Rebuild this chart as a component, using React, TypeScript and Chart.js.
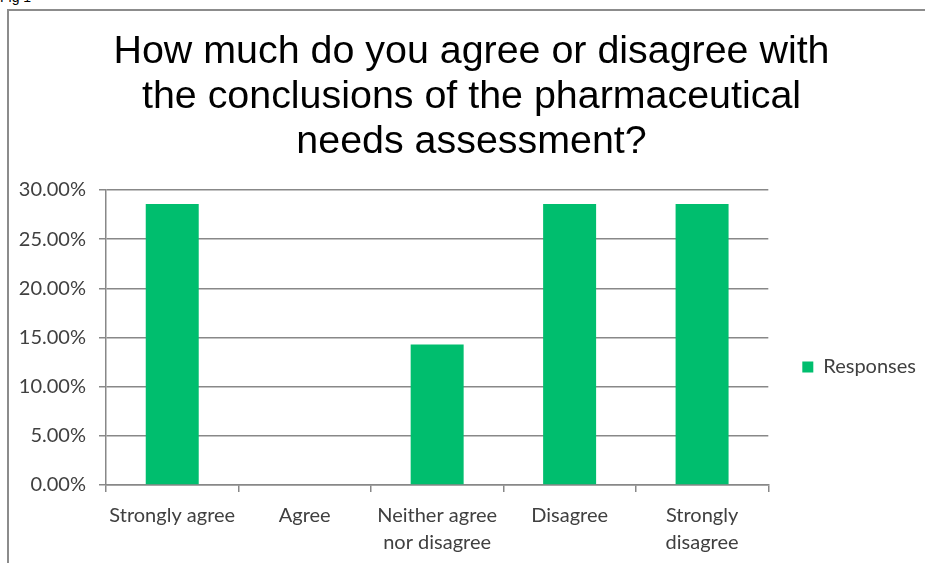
import React, { useEffect, useRef } from "react";
import { Chart, registerables } from "chart.js";

Chart.register(...registerables);

const TITLE_LINES = [
  "How much do you agree or disagree with",
  "the conclusions of the pharmaceutical",
  "needs assessment?",
];
const CATEGORIES: (string | string[])[] = [
  "Strongly agree",
  "Agree",
  ["Neither agree", "nor disagree"],
  "Disagree",
  ["Strongly", "disagree"],
];
const RESPONSES = [28.57, 0, 14.29, 28.57, 28.57];
const SERIES_LABEL = "Responses";
const Y_MAX = 30;
const Y_STEP = 5;

const X0 = 17;
const Y0 = 11;
const W = 914;
const H = 555;

export default function App() {
  const ref = useRef<HTMLCanvasElement | null>(null);

  useEffect(() => {
    if (!ref.current) return;
    const chart = new Chart(ref.current, {
      type: "bar",
      data: {
        labels: CATEGORIES,
        datasets: [
          {
            label: SERIES_LABEL,
            data: RESPONSES,
            backgroundColor: "#00BE6E",
            borderWidth: 0,
            barPercentage: 0.4,
            categoryPercentage: 1,
          },
        ],
      },
      options: {
        responsive: false,
        animation: false,
        devicePixelRatio: 1,
        layout: { padding: { left: 0, right: 5, top: 0, bottom: 0 } },
        plugins: {
          title: {
            display: true,
            text: TITLE_LINES,
            color: "#000000",
            font: { family: "'Liberation Sans', Arial, sans-serif", size: 39.4, weight: "normal", lineHeight: "45px" },
            padding: { top: 19, bottom: 25 },
          },
          legend: {
            display: true,
            position: "right",
            title: {
              display: true,
              text: "",
              font: { size: 18, lineHeight: 1.2 },
              padding: { top: 67.7, bottom: 67.7 },
            },
            labels: {
              boxWidth: 11,
              boxHeight: 11,
              padding: 34,
              color: "#404040",
              font: { family: "Lato, 'Noto Sans', sans-serif", size: 20 },
            },
          },
          tooltip: { enabled: false },
        },
        scales: {
          x: {
            grid: {
              display: true,
              drawOnChartArea: false,
              drawTicks: true,
              tickLength: 7,
              color: "#888888",
              lineWidth: 1.5,
              offset: true,
            },
            border: { display: true, color: "#888888", width: 1.5 },
            ticks: {
              color: "#404040",
              font: { family: "Lato, 'Noto Sans', sans-serif", size: 20, lineHeight: "27px" },
              padding: 10,
              maxRotation: 0,
              autoSkip: false,
            },
          },
          y: {
            min: 0,
            max: Y_MAX,
            afterFit: (s: any) => {
              s.width = 106 - X0;
            },
            grid: {
              display: true,
              drawOnChartArea: true,
              drawTicks: true,
              tickLength: 7,
              color: "#888888",
              lineWidth: 1.5,
            },
            border: { display: true, color: "#888888", width: 1.5 },
            ticks: {
              stepSize: Y_STEP,
              color: "#404040",
              font: { family: "Lato, 'Noto Sans', sans-serif", size: 20 },
              padding: 13,
              callback: (v: any) => Number(v).toFixed(2) + "%",
            },
          },
        },
      },
    });
    return () => chart.destroy();
  }, []);

  return (
    <div
      style={{
        position: "absolute",
        left: 0,
        top: 0,
        width: 925,
        height: 563,
        overflow: "hidden",
        background: "#ffffff",
      }}
    >
      <div
        style={{
          position: "absolute",
          left: 0,
          top: -10,
          fontFamily: "'Liberation Sans', Arial, sans-serif",
          fontSize: 14,
          lineHeight: "14px",
          color: "#000",
          whiteSpace: "nowrap",
        }}
      >
        Fig 1
      </div>
      <div
        style={{
          position: "absolute",
          left: 7,
          top: 9,
          width: 960,
          height: 600,
          border: "2px solid #8c8c8c",
          background: "#ffffff",
        }}
      />
      <canvas
        ref={ref}
        width={W}
        height={H}
        style={{ position: "absolute", left: X0, top: Y0, display: "block", width: W, height: H }}
      />
    </div>
  );
}
